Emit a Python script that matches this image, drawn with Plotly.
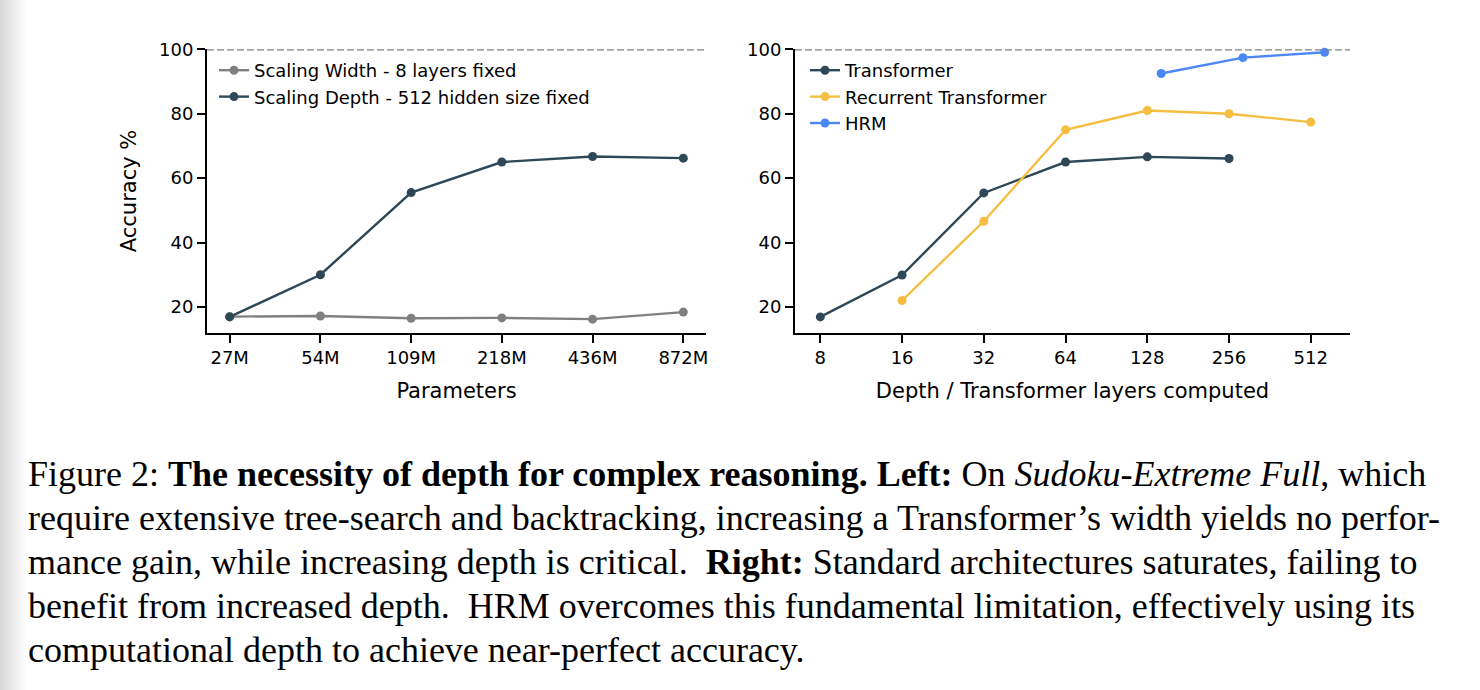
import numpy as np
import plotly.graph_objects as go

# Left panel data (Sudoku-Extreme Full, scaling width vs depth)
params = ["27M", "54M", "109M", "218M", "436M", "872M"]
width_acc = [17.0, 17.2, 16.5, 16.6, 16.2, 18.4]
depth_acc = [16.9, 30.0, 55.5, 65.0, 66.7, 66.2]

# Right panel data (depth / layers computed)
layer_ticks = [8, 16, 32, 64, 128, 256, 512]
tf_layers = [8, 16, 32, 64, 128, 256]
tf_acc = [16.9, 29.9, 55.4, 65.0, 66.6, 66.1]
rec_layers = [16, 32, 64, 128, 256, 512]
rec_acc = [22.0, 46.6, 75.0, 81.0, 80.0, 77.4]
hrm_layers = [144, 288, 576]
hrm_acc = [92.5, 97.4, 99.1]

y_ticks = [20, 40, 60, 80, 100]
best = 100

caption = [
    "Figure 2: <b>The necessity of depth for complex reasoning. Left:</b> On <i>Sudoku-Extreme Full</i>, which",
    "require extensive tree-search and backtracking, increasing a Transformer’s width yields no perfor-",
    "mance gain, while increasing depth is critical.  <b>Right:</b> Standard architectures saturates, failing to",
    "benefit from increased depth.  HRM overcomes this fundamental limitation, effectively using its",
    "computational depth to achieve near-perfect accuracy.",
]

# colores
GRAY = "#808080"
DARK = "#2F4858"
YELLOW = "#F6BE40"
BLUE = "#4C87F6"

W, H = 1480, 690
FONT = "DejaVu Sans"

fig = go.Figure()

def linea(x, y, name, color, xa, ya, leg):
    return go.Scatter(
        x=x, y=y, name=name, mode="lines+markers",
        line=dict(color=color, width=2.4),
        marker=dict(color=color, size=9),
        xaxis=xa, yaxis=ya, legend=leg, cliponaxis=False,
    )

fig.add_trace(linea(params, width_acc, "Scaling Width - 8 layers fixed", GRAY, "x", "y", "legend"))
fig.add_trace(linea(params, depth_acc, "Scaling Depth - 512 hidden size fixed", DARK, "x", "y", "legend"))
fig.add_trace(linea(tf_layers, tf_acc, "Transformer", DARK, "x2", "y2", "legend2"))
fig.add_trace(linea(rec_layers, rec_acc, "Recurrent Transformer", YELLOW, "x2", "y2", "legend2"))
fig.add_trace(linea(hrm_layers, hrm_acc, "HRM", BLUE, "x2", "y2", "legend2"))

ydom = [1 - 332.7 / H, 1 - 49.3 / H]
tfont = dict(family=FONT, size=21, color="black")

ejes = dict(
    showline=True, linecolor="black", linewidth=2, mirror=False,
    ticks="outside", ticklen=8, tickwidth=2, tickcolor="black",
    showgrid=False, zeroline=False, automargin=False,
    tickfont=dict(family=FONT, size=18, color="black"),
)

leg = dict(
    xanchor="left", yanchor="top", bgcolor="rgba(0,0,0,0)",
    font=dict(family=FONT, size=18, color="black"),
    tracegroupgap=0, itemwidth=30,
)

fig.update_layout(
    xaxis=dict(
        ejes, domain=[207 / W, 706 / W], type="category",
        range=[-0.25, 5.25],
        title=dict(text="Parameters", font=tfont, standoff=16),
    ),
    yaxis=dict(
        ejes, domain=ydom, range=[12, best], tickvals=y_ticks,
        title=dict(text="Accuracy %", font=tfont, standoff=17),
    ),
    xaxis2=dict(
        ejes, domain=[795 / W, 1350 / W], type="log", anchor="y2",
        range=[np.log10(2 ** 2.69), np.log10(2 ** 9.48)],
        tickvals=layer_ticks, ticktext=[str(v) for v in layer_ticks],
        title=dict(text="Depth / Transformer layers computed", font=tfont, standoff=16),
    ),
    yaxis2=dict(ejes, domain=ydom, range=[12, best], tickvals=y_ticks, anchor="x2"),
    legend=dict(leg, x=214 / W, y=1 - 52 / H),
    legend2=dict(leg, x=805 / W, y=1 - 52 / H),
    width=W, height=H, autosize=False,
    margin=dict(l=0, r=0, t=0, b=0, autoexpand=False),
    paper_bgcolor="white", plot_bgcolor="white",
)

# linea punteada en 100%
for xr, yr in [("x domain", "y"), ("x2 domain", "y2")]:
    fig.add_shape(
        type="line", xref=xr, yref=yr, x0=0, x1=1, y0=best, y1=best,
        line=dict(color="#808080", width=2.2, dash="7px,3px"), layer="above",
    )

# sombra gris en el borde izquierdo (captura de pantalla)
for w in range(2, 27, 2):
    fig.add_shape(
        type="rect", xref="paper", yref="paper", x0=0, x1=w / W, y0=0, y1=1,
        fillcolor="rgba(0,0,0,0.013)", line=dict(width=0), layer="below",
    )

# caption
for i, txt in enumerate(caption):
    fig.add_annotation(
        text=txt, xref="paper", yref="paper", x=26 / W, y=1 - (474 + 44 * i) / H,
        xanchor="left", yanchor="middle", showarrow=False, align="left",
        font=dict(family="Liberation Serif", size=36, color="black"),
    )

fijar = (
    "document.body.style.margin='0';"
    "var gd=document.getElementById('{plot_id}');"
    "gd.style.position='absolute';gd.style.top='0px';gd.style.left='0px';"
)
fig.write_html("out.html", config={"displayModeBar": False}, post_script=fijar)
